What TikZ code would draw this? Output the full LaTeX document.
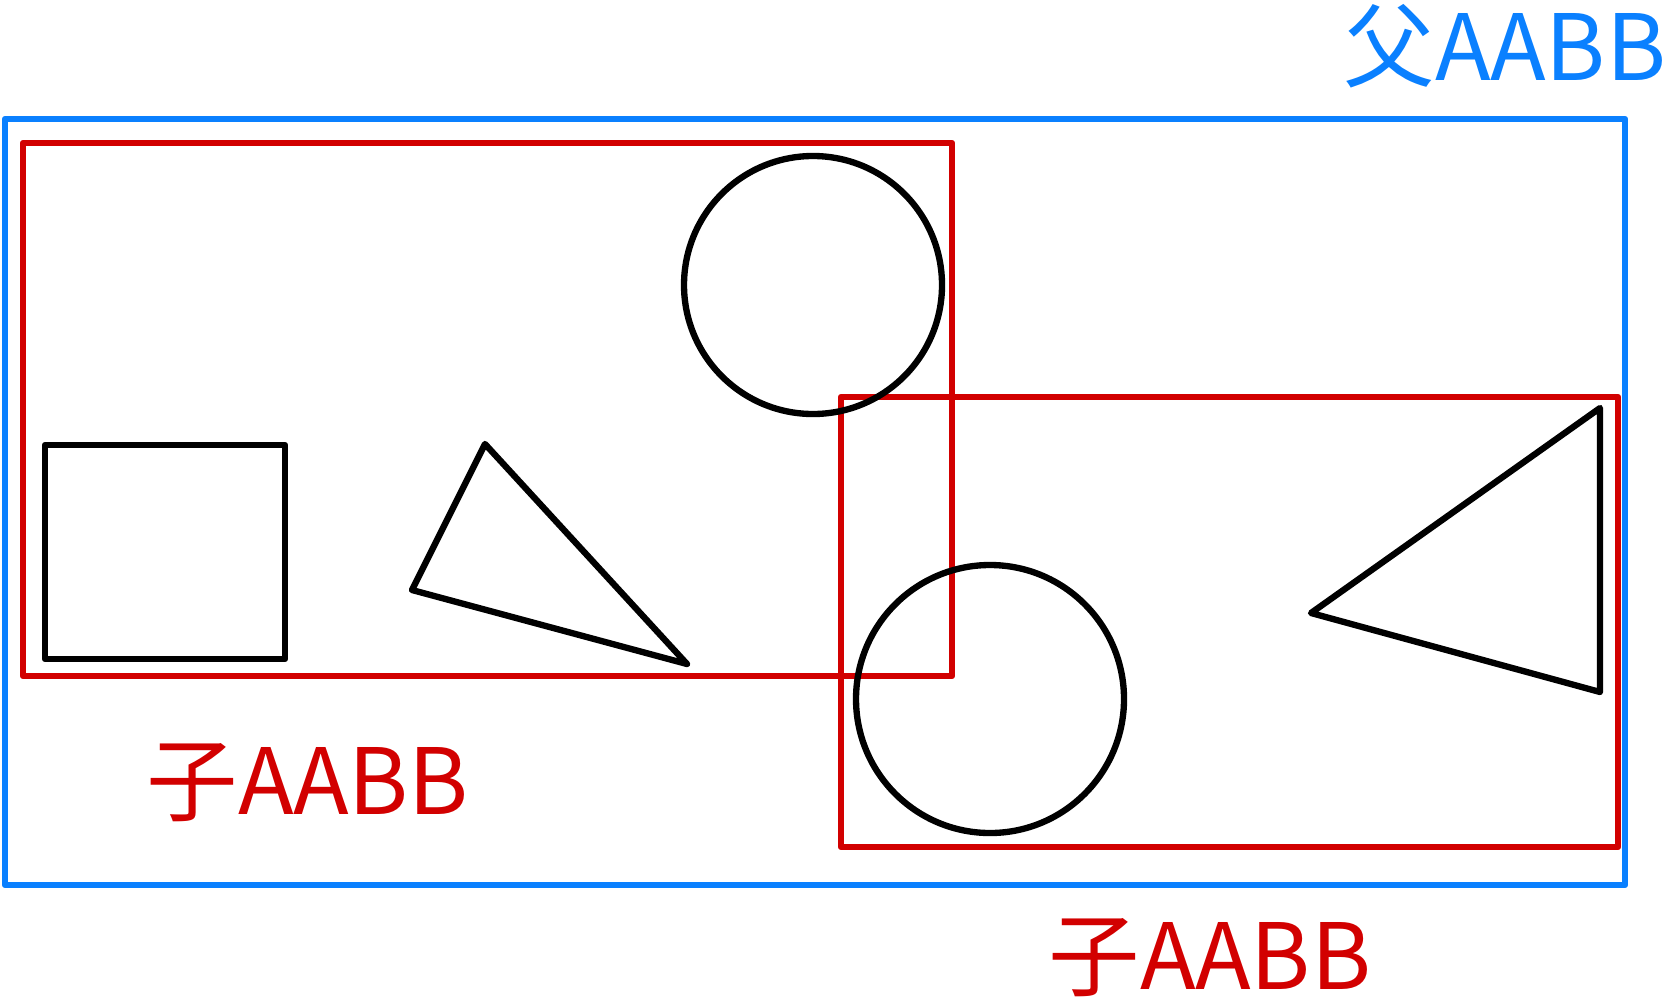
\documentclass[tikz,border=0pt]{standalone}
\usepackage{fontspec}
\newfontfamily\cjk{Noto Sans CJK SC}
\usetikzlibrary{positioning}
\definecolor{parentblue}{RGB}{10,128,255}
\definecolor{childred}{RGB}{210,0,0}

\begin{document}
\begin{tikzpicture}[
    x=0.01cm, y=-0.01cm,
    line join=round, line cap=round,
    shape_line/.style = {draw=black, line width=1.8pt},
    parent_box/.style = {draw=parentblue, line width=1.8pt},
    child_box/.style = {draw=childred, line width=1.8pt},
    tag/.style = {font=\cjk\fontsize{26}{28}\selectfont, inner sep=0pt}
]
\useasboundingbox (0,0) rectangle (1671,1000);

% Boxes
\draw [parent_box] (5,119) rectangle (1625,885);
\draw [child_box] (23,143) rectangle (952,676);
\draw [child_box] (841,397) rectangle (1618,847);

% Shapes
\draw [shape_line] (45,445) rectangle (285,659);
\draw [shape_line] (485,444) -- (412,590) -- (687,664) -- cycle;
\draw [shape_line] (813,285) circle [radius=129];
\draw [shape_line] (990,699) circle [radius=134];
\draw [shape_line] (1600,408) -- (1311,613) -- (1600,692) -- cycle;

% Labels
\node [tag, text=parentblue] (parent_tag) at (1505,46) {父AABB};
\node [tag, text=childred] (child_tag_a) at (308,783) {子AABB};
\node [tag, text=childred] (child_tag_b) at (1210,958) {子AABB};

\end{tikzpicture}
\end{document}
